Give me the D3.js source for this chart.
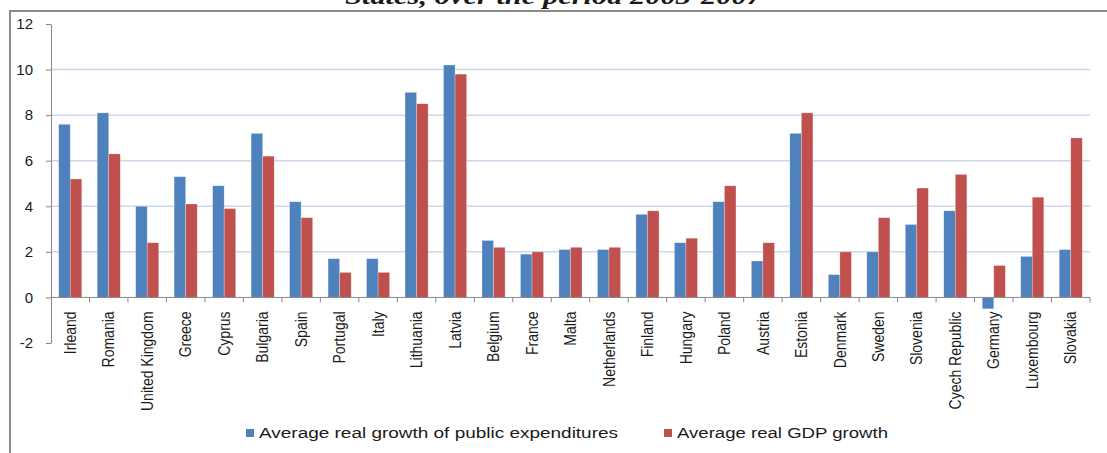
<!DOCTYPE html>
<html>
<head>
    <meta charset="utf-8">
    <title>Public expenditure vs GDP growth</title>
    <script src="https://cdnjs.cloudflare.com/ajax/libs/d3/7.8.5/d3.min.js"></script>
    <style>
        body{
            margin: 0;
            background: #fff;
        }
        svg text{
            font-family: "Liberation Sans", Arial, sans-serif;
            fill: #1a1a1a;
        }
        .title{
            font-family: "Liberation Serif", "Times New Roman", serif !important;
            font-weight: bold;
            font-style: italic;
            font-size: 24px;
        }
    </style>
</head>
<body>
    <svg id="chart" width="1107" height="453"></svg>
    <script>
        var categories = ["Irleand", "Romania", "United Kingdom", "Greece", "Cyprus", "Bulgaria", "Spain",
            "Portugal", "Italy", "Lithuania", "Latvia", "Belgium", "France", "Malta", "Netherlands",
            "Finland", "Hungary", "Poland", "Austria", "Estonia", "Denmark", "Sweden", "Slovenia",
            "Cyech Republic", "Germany", "Luxembourg", "Slovakia"];
        var expenditureGrowth = [7.6, 8.1, 4.0, 5.3, 4.9, 7.2, 4.2, 1.7, 1.7, 9.0, 10.2, 2.5, 1.9, 2.1, 2.1,
            3.65, 2.4, 4.2, 1.6, 7.2, 1.0, 2.0, 3.2, 3.8, -0.5, 1.8, 2.1];
        var gdpGrowth = [5.2, 6.3, 2.4, 4.1, 3.9, 6.2, 3.5, 1.1, 1.1, 8.5, 9.8, 2.2, 2.0, 2.2, 2.2,
            3.8, 2.6, 4.9, 2.4, 8.1, 2.0, 3.5, 4.8, 5.4, 1.4, 4.4, 7.0];
        var yTicks = [-2, 0, 2, 4, 6, 8, 10, 12];
        var seriesNames = ["Average real growth of public expenditures", "Average real GDP growth"];
        var seriesColors = ["#4f81bd", "#c0504d"];

        var svg = d3.select("#chart");

        // title of the page above, cut off by the crop as in the source
        svg.append("text")
            .attr("class", "title")
            .attr("x", 345)
            .attr("y", 4)
            .attr("textLength", 417)
            .attr("lengthAdjust", "spacingAndGlyphs")
            .text("States, over the period 2003-2007");

        // chart frame
        svg.append("rect")
            .attr("x", 10).attr("y", 11)
            .attr("width", 1200).attr("height", 600)
            .attr("fill", "none")
            .attr("stroke", "#8a8a8a")
            .attr("stroke-width", 2);

        var yScale = d3.scaleLinear().domain([-2, 12]).range([343, 24]);
        var xScale = d3.scaleBand().domain(categories).range([51, 1090])
                        .paddingInner(0.4).paddingOuter(0.2);
        var subScale = d3.scaleBand().domain([0, 1]).range([0, xScale.bandwidth()]);

        // gridlines
        svg.append("g").selectAll("line")
            .data(yTicks.filter(d => d > 0 && d < 12))
            .enter()
            .append("line")
            .attr("x1", 51).attr("x2", 1090)
            .attr("y1", d => yScale(d)).attr("y2", d => yScale(d))
            .attr("stroke", "#cbd8ec")
            .attr("stroke-width", 1.5);

        // bars
        var rows = categories.map((c, i) => ({ name: c, values: [expenditureGrowth[i], gdpGrowth[i]] }));
        var groups = svg.append("g").selectAll("g")
            .data(rows)
            .enter()
            .append("g")
            .attr("transform", d => `translate(${xScale(d.name)},0)`);

        groups.selectAll("rect")
            .data(d => d.values)
            .enter()
            .append("rect")
            .attr("x", (d, i) => subScale(i))
            .attr("width", subScale.bandwidth())
            .attr("y", d => yScale(Math.max(0, d)))
            .attr("height", d => Math.abs(yScale(d) - yScale(0)))
            .attr("fill", (d, i) => seriesColors[i])
            .attr("stroke", "rgba(255,255,255,0.45)")
            .attr("stroke-width", 0.6);

        // y axis
        var yAxis = d3.axisLeft(yScale)
                        .tickValues(yTicks)
                        .tickSize(5)
                        .tickSizeOuter(0)
                        .tickPadding(13)
                        .tickFormat(d => String(d));
        var yAxisG = svg.append("g")
            .attr("transform", "translate(51,0)")
            .call(yAxis);
        yAxisG.select(".domain").attr("stroke", "#868686");
        yAxisG.selectAll(".tick line").attr("stroke", "#868686");
        yAxisG.selectAll(".tick text")
            .style("font-size", "15px")
            .attr("fill", "#1a1a1a");

        // x axis at zero with tick marks between categories
        var zeroY = yScale(0);
        svg.append("line")
            .attr("x1", xScale.range()[0]).attr("x2", xScale.range()[1])
            .attr("y1", zeroY).attr("y2", zeroY)
            .attr("stroke", "#868686");
        svg.append("g").selectAll("line")
            .data(d3.range(1, categories.length + 1))
            .enter()
            .append("line")
            .attr("x1", i => xScale.range()[0] + i * xScale.step())
            .attr("x2", i => xScale.range()[0] + i * xScale.step())
            .attr("y1", zeroY).attr("y2", zeroY + 5)
            .attr("stroke", "#868686");

        svg.append("g").selectAll("text")
            .data(categories)
            .enter()
            .append("text")
            .attr("transform", d => `translate(${xScale(d) + xScale.bandwidth() / 2},${zeroY + 14}) rotate(-90) scale(1,1.15)`)
            .attr("text-anchor", "end")
            .attr("dy", "0.35em")
            .style("font-size", "14px")
            .text(d => d);

        // legend
        var legendX = [246, 664];
        var legendW = [359, 211];
        var legend = svg.append("g").selectAll("g")
            .data(seriesNames)
            .enter()
            .append("g")
            .attr("transform", (d, i) => `translate(${legendX[i]},433)`);
        legend.append("rect")
            .attr("x", 0).attr("y", -4)
            .attr("width", 8).attr("height", 8)
            .attr("fill", (d, i) => seriesColors[i]);
        legend.append("text")
            .attr("x", 13)
            .attr("y", 5)
            .attr("textLength", (d, i) => legendW[i])
            .attr("lengthAdjust", "spacingAndGlyphs")
            .style("font-size", "14px")
            .text(d => d);
    </script>
</body>
</html>
